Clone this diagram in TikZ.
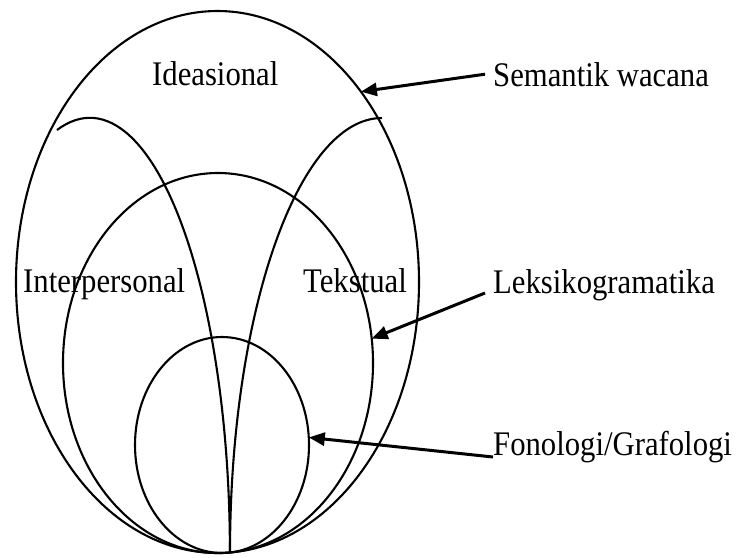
\documentclass[tikz,border=0pt]{standalone}
\usepackage{fontspec}
\setmainfont{Liberation Serif}
\usetikzlibrary{shapes.geometric,arrows.meta}
\begin{document}
\begin{tikzpicture}[x=1pt,y=-1pt,
  ring/.style={ellipse, draw, line width=2.1pt, inner sep=0pt, outer sep=0pt},
  lens/.style={line width=2.1pt},
  lbl/.style={anchor=base west, inner sep=0pt, xscale=0.89,
    font=\fontsize{34.5}{40}\selectfont},
  pointer/.style={line width=3pt, -{Triangle[length=16pt,width=13pt]}}]
\useasboundingbox (0,0) rectangle (741,557);

% nested strata
\node[ring, minimum width=403pt, minimum height=542pt] (outer) at (217.5,282) {};
\node[ring, minimum width=310pt, minimum height=380pt] (middle) at (218,363) {};
\node[ring, minimum width=174pt, minimum height=216pt] (inner) at (222,445) {};

% metafunction boundaries
\draw[lens] (57,130) arc[start angle=103.6, end angle=0, x radius=140pt, y radius=435pt];
\draw[lens] (382,118) arc[start angle=90, end angle=180, x radius=152pt, y radius=435pt];

% labels inside
\node[lbl] (ide) at (152,85) {Ideasional};
\node[lbl] (inter) at (23,292) {Interpersonal};
\node[lbl] (teks) at (303,292) {Tekstual};

% labels outside
\node[lbl] (sem) at (493,86) {Semantik wacana};
\node[lbl] (lek) at (493,293) {Leksikogramatika};
\node[lbl] (fon) at (493,455) {Fonologi/Grafologi};

% pointers
\draw[pointer] ([xshift=-8pt]sem.west) -- (outer.53.7);
\draw[pointer] ([xshift=-8pt]lek.base west) -- (middle.9.2);
\draw[pointer] ([yshift=-2pt]fon.base west) -- (inner.5.3);
\end{tikzpicture}
\end{document}
